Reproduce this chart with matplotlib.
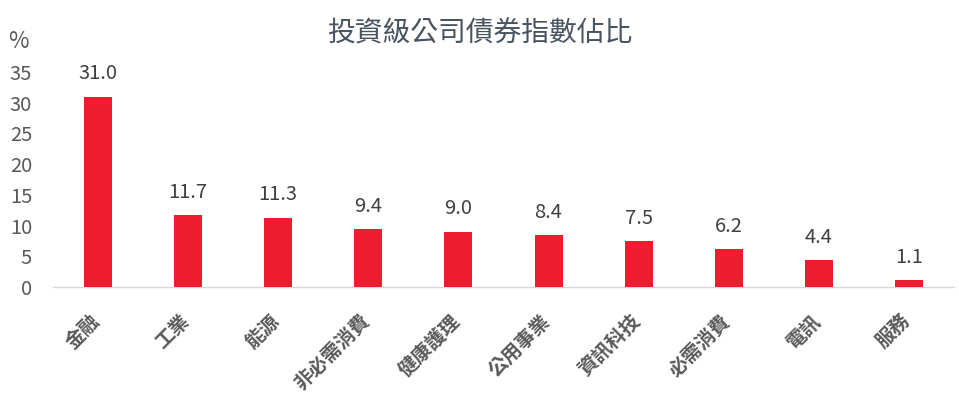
import matplotlib
matplotlib.use("Agg")
import matplotlib.pyplot as plt
import matplotlib.transforms as mtrans

categories = ["金融", "工業", "能源", "非必需消費", "健康護理", "公用事業", "資訊科技", "必需消費", "電訊", "服務"]
values = [31.0, 11.7, 11.3, 9.4, 9.0, 8.4, 7.5, 6.2, 4.4, 1.1]
yticks = [0, 5, 10, 15, 20, 25, 30, 35]
title = "投資級公司債券指數佔比"

plt.rcParams['font.family'] = ['Noto Sans CJK TC', 'DejaVu Sans']

fig = plt.figure(figsize=(9.59, 3.98), dpi=100)
ax = fig.add_axes([53/959, 1 - 287/398, 901/959, (287 - 72)/398])

x = list(range(len(categories)))
ax.bar(x, values, width=0.31, color="#ED1C2E", zorder=3)
ax.set_xlim(-0.5, len(categories) - 0.5)
ax.set_ylim(0, 35)
ax.set_yticks(yticks)
ax.set_yticklabels([str(t) for t in yticks], fontsize=14.5, color="#595959")
ax.tick_params(axis='y', length=0, pad=15)
ax.tick_params(axis='x', length=0, pad=6)
ax.set_xticks(x)
ax.set_xticklabels(categories, rotation=45, ha='right', rotation_mode='anchor',
                   fontsize=14, color="#595959", fontweight="bold")
for lbl in ax.get_xticklabels():
    lbl.set_transform(lbl.get_transform() + mtrans.ScaledTranslation(-8/100, -16/100, fig.dpi_scale_trans))

for s in ["top", "right", "left"]:
    ax.spines[s].set_visible(False)
ax.spines["bottom"].set_color("#D9D9D9")
ax.spines["bottom"].set_linewidth(1.0)

for xi, v in zip(x, values):
    ax.annotate(f"{v:.1f}", (xi, v), xytext=(0, 12.5), textcoords="offset points",
                ha="center", va="baseline", fontsize=14.5, color="#404040")

fig.text(0.5, 1 - 34/398, title, ha="center", va="center", fontsize=20, color="#47535F")
fig.text(8/959, 1 - 42/398, "%", ha="left", va="center", fontsize=16, color="#595959")

fig.savefig("out.png", dpi=100)
